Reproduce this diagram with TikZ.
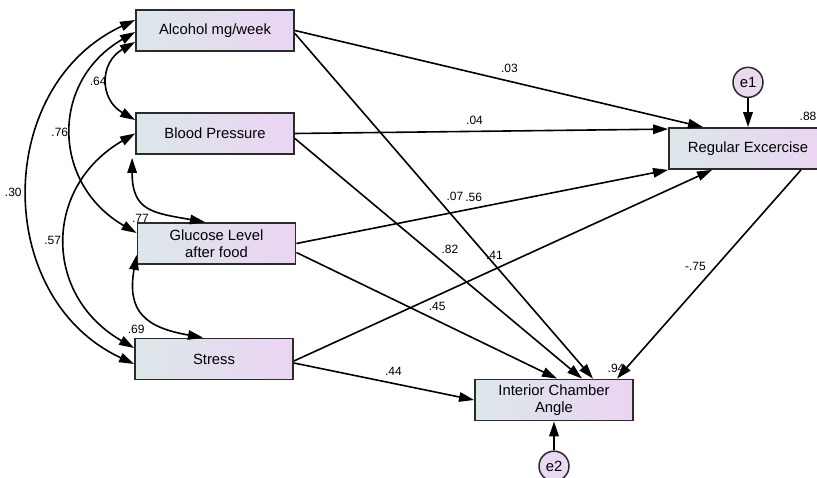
\documentclass[tikz,border=0pt]{standalone}
\usepackage{fontspec}
\setmainfont{Liberation Sans}
\definecolor{BoxLeft}{HTML}{DCE7E9}
\definecolor{BoxRight}{HTML}{EBD4F3}
\definecolor{ErrFill}{HTML}{E9DAF1}
\definecolor{EdgeGray}{HTML}{2B2B2B}
\usetikzlibrary{arrows.meta, positioning}
\tikzset{
  % Box styles
  varbox/.style={rectangle, draw=EdgeGray, line width=1.8pt, left color=BoxLeft, right color=BoxRight, minimum width=158pt, minimum height=41pt, inner sep=2pt, align=center, font=\fontsize{14.8}{17.5}\selectfont},
  errnode/.style={circle, draw=EdgeGray, line width=1.5pt, fill=ErrFill, minimum size=30pt, inner sep=0pt, font=\fontsize{14.8}{17.5}\selectfont},
  % Label styles
  coef/.style={font=\fontsize{12}{13}\selectfont, inner sep=1pt},
  % Arrow styles
  regarrow/.style={-{Triangle[length=15pt, width=9.5pt]}, line width=1.6pt},
  covarrow/.style={{Triangle[length=15pt, width=9.5pt]}-{Triangle[length=15pt, width=9.5pt]}, line width=1.6pt}
}

\begin{document}
\begin{tikzpicture}[x=1pt, y=1pt]
  \useasboundingbox (0,0) rectangle (817,-478);

  % Observed variables
  \node[varbox] (alc) at (215,-30.5) {Alcohol mg/week};
  \node[varbox] (bp) at (215,-133.5) {Blood Pressure};
  \node[varbox] (glu) at (216.5,-243.5) {Glucose Level\\after food};
  \node[varbox] (str) at (214,-359) {Stress};
  \node[varbox] (reg) at (748,-148.5) {Regular Excercise};
  \node[varbox] (ica) at (554,-400) {Interior Chamber\\Angle};

  % Error terms
  \node[errnode, above=29pt of reg] (e1) {e1};
  \node[errnode, below=29pt of ica] (e2) {e2};

  % Squared multiple correlations
  \node[coef] (sqreg) at ([shift={(60pt,11pt)}]reg.north) {.88};
  \node[coef] (sqica) at ([shift={(62pt,10pt)}]ica.north) {.94};

  % Covariances
  \draw[covarrow] ([yshift=-11.5pt]alc.west) to[out=210, in=150, looseness=1.36] node[coef, left] {.64} ([yshift=13.5pt]bp.west);
  \draw[covarrow] ([yshift=-1.5pt]alc.west) to[out=210, in=150, looseness=1.25] node[coef, left=2pt] {.76} ([yshift=10.5pt]glu.west);
  \draw[covarrow] ([yshift=10.5pt]alc.west) to[out=205, in=155, looseness=1.16] node[coef, left=5pt] {.30} ([yshift=-5pt]str.west);
  \draw[covarrow] (bp.west) to[out=210, in=150, looseness=1.26] node[coef, left=3pt] {.57} ([yshift=11pt]str.west);
  \draw[covarrow] ([shift={(-3pt,-3pt)}]bp.south west) to[out=-90, in=170, looseness=1.4] node[coef, xshift=-8.5pt, yshift=-12pt] {.77} ([xshift=-11.5pt]glu.north);
  \draw[covarrow] ([yshift=10pt]glu.south west) to[out=-100, in=170, looseness=1.4] node[coef, xshift=-8.5pt, yshift=-15.5pt] {.69} ([xshift=-11pt]str.north);

  % Regression paths
  \draw[regarrow] (alc.east) -- node[coef, midway, xshift=10.5pt, yshift=10pt] {.03} ([xshift=-45pt]reg.north);
  \draw[regarrow] (bp.east) -- node[coef, midway, xshift=-7pt, yshift=10.5pt] {.04} ([yshift=-2pt]reg.north west);
  \draw[regarrow] (glu.east) -- node[coef, midway, xshift=-8.5pt, yshift=9.5pt] {.56} (reg.south west);
  \draw[regarrow] ([yshift=-2pt]str.east) -- node[coef, midway, xshift=-8.5pt, yshift=10pt] {.41} ([xshift=-36pt]reg.south);
  \draw[regarrow] ([yshift=-3pt]alc.east) -- node[coef, midway, xshift=11pt, yshift=9.5pt] {.07} ([xshift=39pt]ica.north);
  \draw[regarrow] ([yshift=-5pt]bp.east) -- node[coef, midway, xshift=11.5pt, yshift=9.5pt] {.82} ([xshift=28pt]ica.north);
  \draw[regarrow] ([yshift=-9pt]glu.east) -- node[coef, midway, xshift=10.5pt, yshift=9.5pt] {.45} ([xshift=3pt]ica.north);
  \draw[regarrow] ([yshift=-4pt]str.east) -- node[coef, midway, xshift=9.5pt, yshift=10.5pt] {.44} (ica.west);
  \draw[regarrow] ([xshift=53pt]reg.south) -- node[coef, midway, xshift=-13.5pt, yshift=8pt] {-.75} ([xshift=63pt]ica.north);
  \draw[regarrow] (e1) -- (reg);
  \draw[regarrow] (e2) -- (ica);
\end{tikzpicture}
\end{document}
